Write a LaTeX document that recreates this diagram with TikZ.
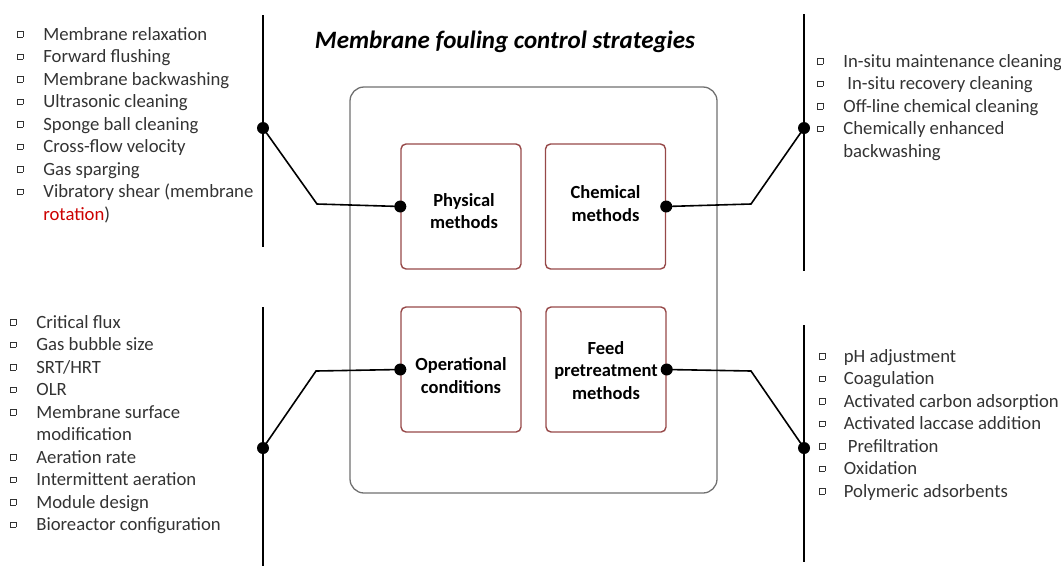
\documentclass[tikz,border=0pt]{standalone}
\usepackage{fontspec}
\setmainfont{Carlito}
\usetikzlibrary{positioning}

\definecolor{boxred}{RGB}{150,72,72}
\definecolor{framegray}{RGB}{112,112,112}
\newcommand{\listfont}{\fontsize{18.7}{22.5}\selectfont}
\newcommand{\sqbul}{\raisebox{3.5pt}{\setlength{\fboxsep}{0pt}\setlength{\fboxrule}{0.7pt}\fbox{\rule{0pt}{4.8pt}\hspace{4.8pt}}}}
% box label, moved up or down a little inside its box
\newcommand{\mlabel}[2]{\raisebox{#1}[\height][\depth]{\begin{tabular}{@{}c@{}}#2\end{tabular}}}

\begin{document}
\begin{tikzpicture}[
    x=1pt, y=-1pt,
    frame/.style  = {draw=framegray, line width=1.3pt, rounded corners=14pt},
    method/.style = {draw=boxred, line width=1.4pt, rounded corners=5pt,
                     minimum width=120pt, minimum height=125pt, inner sep=0pt,
                     font=\fontsize{18.5}{22.5}\selectfont\bfseries},
    dot/.style    = {circle, fill=black, inner sep=0pt, minimum size=12pt},
    spine/.style  = {line width=1.6pt},
    link/.style   = {line width=1.6pt},
    items/.style  = {anchor=base west, inner sep=0pt, text=black!80, font=\listfont},
]
\useasboundingbox (0,0) rectangle (1061,566);

%% ---- Title and frame ----

\node[font=\fontsize{25}{30}\selectfont\bfseries\itshape] (title) at (505,42)
    {Membrane fouling control strategies};
\draw[frame] (350,87) rectangle (717,493);

%% ---- Method boxes ----

\node[method] (phys) at (461,206.5) {\mlabel{-6.5pt}{\hspace*{6pt}Physical\\\hspace*{6pt}methods}};
\node[method] (chem) at (605.5,206.5) {\mlabel{1pt}{Chemical\\methods}};
\node[method] (oper) at (461,369.5) {\mlabel{-8pt}{Operational\\conditions}};
\node[method] (feed) at (606,369.5) {\mlabel{-2.5pt}{Feed\\pretreatment\\methods}};

%% ---- Spines ----

\foreach \n/\x/\a/\b in {tl/263/15/247, bl/263/307/566, tr/804/14/271, br/804/325/562}{
    \coordinate (\n top) at (\x,\a);
    \coordinate (\n bot) at (\x,\b);
    \draw[spine] (\n top) -- (\n bot);
}

%% ---- Dots and links ----

\node[dot] (tl dot) at (263,128) {};
\node[dot] (bl dot) at (263,448) {};
\node[dot] (tr dot) at (804,128) {};
\node[dot] (br dot) at (804,448) {};

\node[dot] (phys dot) at (phys.west) {};
\node[dot] (chem dot) at (chem.east) {};
\node[dot] (oper dot) at (oper.west) {};
\node[dot] (feed dot) at (feed.east) {};

\coordinate (tl bend) at (317,204);
\coordinate (bl bend) at (316,371);
\coordinate (tr bend) at (751,204);
\coordinate (br bend) at (751,371);

\draw[link] (tl dot.center) -- (tl bend) -- (phys dot.center);
\draw[link] (bl dot.center) -- (bl bend) -- (oper dot.center);
\draw[link] (tr dot.center) -- (tr bend) -- (chem dot.center);
\draw[link] (br dot.center) -- (br bend) -- (feed dot.center);

%% ---- Item lists ----

\node[items] (phys list) at (17,40) {%
\begin{tabular}[t]{@{}l@{\hspace{20pt}}l@{}}
\sqbul & Membrane relaxation\\
\sqbul & Forward flushing\\
\sqbul & Membrane backwashing\\
\sqbul & Ultrasonic cleaning\\
\sqbul & Sponge ball cleaning\\
\sqbul & Cross-flow velocity\\
\sqbul & Gas sparging\\
\sqbul & Vibratory shear (membrane\\
       & \textcolor{red!80!black}{rotation})
\end{tabular}};

\node[items] (oper list) at (10,328) {%
\begin{tabular}[t]{@{}l@{\hspace{20pt}}l@{}}
\sqbul & Critical flux\\
\sqbul & Gas bubble size\\
\sqbul & SRT/HRT\\
\sqbul & OLR\\
\sqbul & Membrane surface\\
       & modification\\
\sqbul & Aeration rate\\
\sqbul & Intermittent aeration\\
\sqbul & Module design\\
\sqbul & Bioreactor configuration
\end{tabular}};

\node[items] (chem list) at (817,67) {%
\begin{tabular}[t]{@{}l@{\hspace{20pt}}l@{}}
\sqbul & In-situ maintenance cleaning\\
\sqbul & \hspace{4pt}In-situ recovery cleaning\\
\sqbul & Off-line chemical cleaning\\
\sqbul & Chemically enhanced\\
       & backwashing
\end{tabular}};

\node[items] (feed list) at (819,362) {%
\begin{tabular}[t]{@{}l@{\hspace{18.5pt}}l@{}}
\sqbul & pH adjustment\\
\sqbul & Coagulation\\
\sqbul & Activated carbon adsorption\\
\sqbul & Activated laccase addition\\
\sqbul & \hspace{4pt}Prefiltration\\
\sqbul & Oxidation\\
\sqbul & Polymeric adsorbents
\end{tabular}};

\end{tikzpicture}
\end{document}
